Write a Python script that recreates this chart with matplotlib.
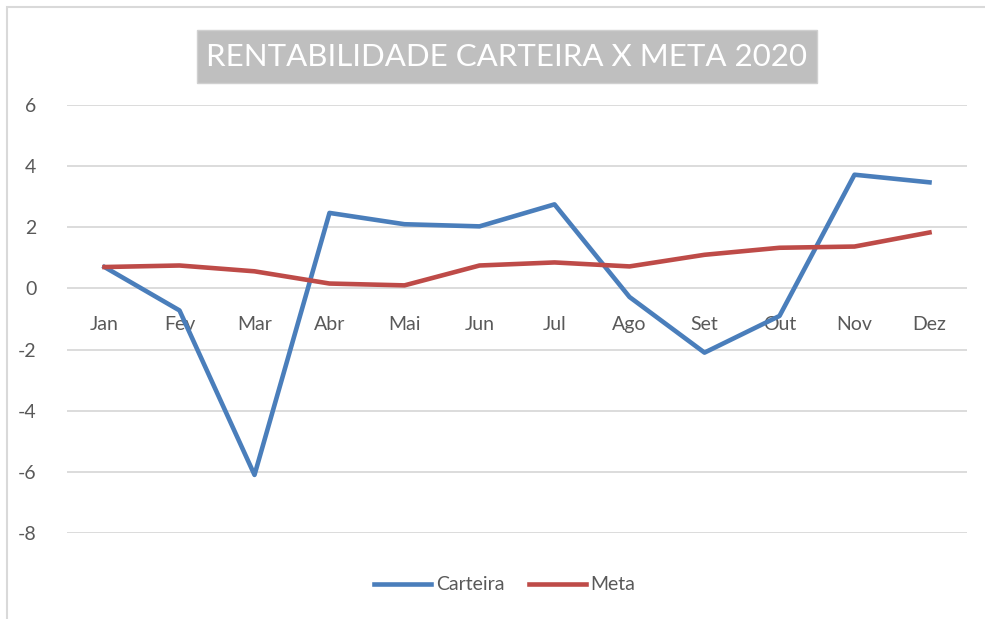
import matplotlib.pyplot as plt
from matplotlib.patches import Rectangle

meses = ['Jan', 'Fev', 'Mar', 'Abr', 'Mai', 'Jun', 'Jul', 'Ago', 'Set', 'Out', 'Nov', 'Dez']
carteira = [0.70, -0.72, -6.10, 2.47, 2.10, 2.03, 2.75, -0.28, -2.10, -0.90, 3.72, 3.47]
meta = [0.70, 0.75, 0.56, 0.16, 0.10, 0.75, 0.85, 0.72, 1.10, 1.33, 1.37, 1.83]
yticks = [-8, -6, -4, -2, 0, 2, 4, 6]

plt.rcParams['font.family'] = ['Lato', 'DejaVu Sans']

W, H = 985, 619
fig = plt.figure(figsize=(9.85, 6.19), dpi=100)
ax = fig.add_axes([67 / W, 1 - 533 / H, 900 / W, 428 / H])

x = list(range(len(meses)))
ax.plot(x, carteira, color='#4A7EBB', lw=3.3, label='Carteira', solid_joinstyle='round', zorder=3)
ax.plot(x, meta, color='#BE4B48', lw=3.3, label='Meta', solid_joinstyle='round', zorder=3)

ax.set_xlim(-0.5, len(meses) - 0.5)
ax.set_ylim(-8, 6)
ax.set_yticks(yticks)
ax.set_yticklabels([str(v) for v in yticks])
ax.set_xticks(x)
ax.set_xticklabels(meses)

for v in yticks:
    ax.axhline(v, color='#D9D9D9', lw=1.3, zorder=1)

for s in ['top', 'right', 'left']:
    ax.spines[s].set_visible(False)
ax.spines['bottom'].set_position(('data', 0))
ax.spines['bottom'].set_visible(False)
ax.tick_params(axis='both', length=0, labelsize=14, colors='#595959')
ax.tick_params(axis='y', pad=22)
ax.tick_params(axis='x', pad=20)

leg = fig.legend(loc='center', bbox_to_anchor=(505 / W, 1 - 585 / H), ncol=2, frameon=False,
                 fontsize=14, handlelength=2.9, handletextpad=0.25, columnspacing=1.3)
for t in leg.get_texts():
    t.set_color('#595959')

# title box
fig.patches.append(Rectangle((197 / W, 1 - 83 / H), 620 / W, 53 / H, transform=fig.transFigure,
                             facecolor='#BFBFBF', edgecolor='#D0D0D0', lw=1))
fig.text(507 / W, 1 - 57 / H, 'RENTABILIDADE CARTEIRA X META 2020', ha='center', va='center',
         fontsize=22.5, color='white')

# outer chart border
fig.patches.append(Rectangle((7 / W, -0.05), 1.1, 1.05 - 7 / H, transform=fig.transFigure,
                             fill=False, edgecolor='#D9D9D9', lw=1.5))

fig.savefig('out.png', dpi=100)
